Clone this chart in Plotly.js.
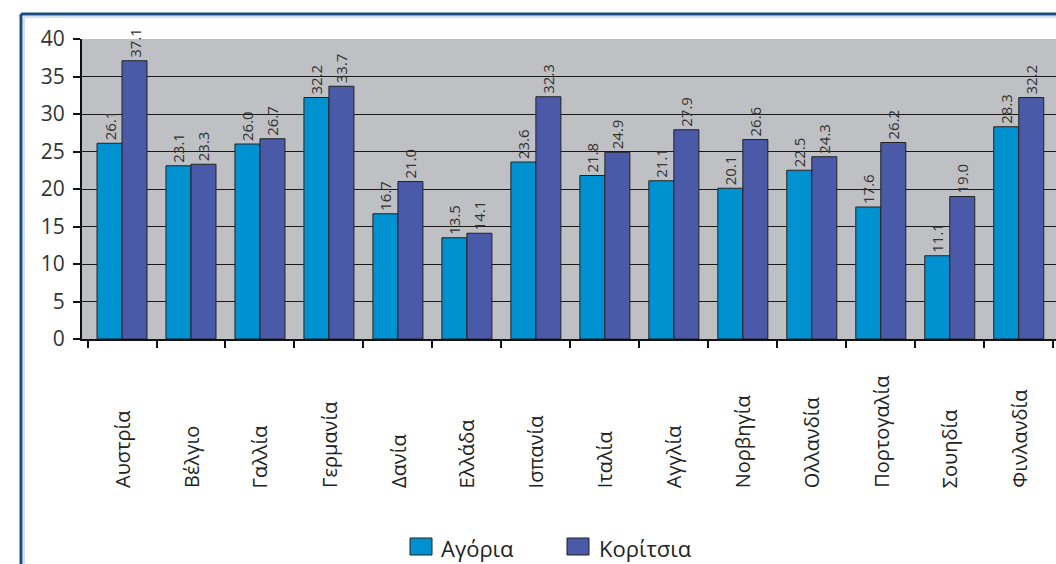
<!DOCTYPE html>
<html>
<head>
<meta charset="utf-8">
<script src="https://cdn.plot.ly/plotly-3.0.1.min.js"></script>
<style>
  html, body { margin: 0; padding: 0; background: #ffffff; }
  #chart { width: 1056px; height: 564px; }
</style>
</head>
<body>
<div id="chart"></div>
<script>
const categories = ["Αυστρία", "Βέλγιο", "Γαλλία", "Γερμανία", "Δανία", "Ελλάδα", "Ισπανία",
                    "Ιταλία", "Αγγλία", "Νορβηγία", "Ολλανδία", "Πορτογαλία", "Σουηδία", "Φινλανδία"];
const boys  = [26.1, 23.1, 26.0, 32.2, 16.7, 13.5, 23.6, 21.8, 21.1, 20.1, 22.5, 17.6, 11.1, 28.3];
const girls = [37.1, 23.3, 26.7, 33.7, 21.0, 14.1, 32.3, 24.9, 27.9, 26.6, 24.3, 26.2, 19.0, 32.2];
const seriesNames = ["Αγόρια", "Κορίτσια"];
const seriesColors = ["#0092d0", "#4a59a8"];
const yTicks = [0, 5, 10, 15, 20, 25, 30, 35, 40];

const W = 1056, H = 564;
const M = {l: 82, r: 0, t: 39, b: 225};
const plotW = W - M.l - M.r, plotH = H - M.t - M.b;
const px = x => (x - M.l) / plotW;
const py = y => (H - M.b - y) / plotH;

const FONT = "Open Sans, DejaVu Sans, sans-serif";

function barTrace(name, vals, color) {
  return {
    type: "bar",
    name: name,
    x: categories,
    y: vals,
    marker: {color: color, line: {color: "#222222", width: 1}},
    text: vals.map(v => v.toFixed(1)),
    textposition: "outside",
    textangle: -90,
    constraintext: "none",
    cliponaxis: false,
    textfont: {family: FONT, size: 15, color: "#333333"},
    hoverinfo: "x+y"
  };
}

const data = [
  barTrace(seriesNames[0], boys, seriesColors[0]),
  barTrace(seriesNames[1], girls, seriesColors[1])
];

// category labels (bottom-aligned, rotated)
const annotations = categories.map(c => ({
  x: c, xref: "x",
  y: py(490), yref: "paper",
  text: c, textangle: -90,
  showarrow: false,
  xanchor: "center", yanchor: "bottom",
  font: {family: FONT, size: 20, color: "#222222"}
}));

// manual legend
const legendItems = [
  {x0: 410, x1: 432, tx: 439},
  {x0: 567, x1: 589, tx: 597}
];
const shapes = [];
legendItems.forEach((it, i) => {
  shapes.push({
    type: "rect", xref: "paper", yref: "paper",
    x0: px(it.x0), x1: px(it.x1), y0: py(555), y1: py(538),
    fillcolor: seriesColors[i], line: {color: "#222222", width: 1}
  });
  annotations.push({
    x: px(it.tx), xref: "paper", y: py(548), yref: "paper",
    text: seriesNames[i], showarrow: false,
    xanchor: "left", yanchor: "middle",
    font: {family: FONT, size: 22, color: "#222222"}
  });
});

// outer frame (left and top edges visible)
shapes.push({type: "line", xref: "paper", yref: "paper",
  x0: px(24), x1: px(1060), y0: py(17), y1: py(17), line: {color: "#a9c6e6", width: 1}});
shapes.push({type: "line", xref: "paper", yref: "paper",
  x0: px(24), x1: px(24), y0: py(17), y1: py(570), line: {color: "#a9c6e6", width: 1}});
shapes.push({type: "line", xref: "paper", yref: "paper",
  x0: px(21), x1: px(1060), y0: py(14), y1: py(14), line: {color: "#1d4d7e", width: 3}});
shapes.push({type: "line", xref: "paper", yref: "paper",
  x0: px(21), x1: px(21), y0: py(14), y1: py(570), line: {color: "#1d4d7e", width: 3}});

const layout = {
  width: W, height: H,
  margin: M,
  paper_bgcolor: "#ffffff",
  plot_bgcolor: "#bfc0c4",
  showlegend: false,
  barmode: "group",
  bargap: 0.275,
  bargroupgap: 0,
  font: {family: FONT, color: "#333333"},
  xaxis: {
    type: "category",
    range: [-0.58, 13.54],
    showticklabels: false,
    ticks: "outside", tickson: "boundaries", ticklen: 7, tickwidth: 2, tickcolor: "#111111",
    showline: true, linecolor: "#111111", linewidth: 2,
    showgrid: false, fixedrange: true
  },
  yaxis: {
    range: [0, 40],
    tickvals: yTicks,
    ticktext: yTicks.map(String),
    ticks: "outside", ticklen: 7, tickwidth: 2, tickcolor: "#111111",
    showline: true, linecolor: "#111111", linewidth: 2,
    showgrid: true, gridcolor: "#1a1a1a", gridwidth: 1,
    zeroline: false,
    tickfont: {family: FONT, size: 21, color: "#333333"},
    ticklabelstandoff: 4,
    fixedrange: true
  },
  annotations: annotations,
  shapes: shapes
};

Plotly.newPlot("chart", data, layout, {displayModeBar: false, staticPlot: true});
</script>
</body>
</html>
